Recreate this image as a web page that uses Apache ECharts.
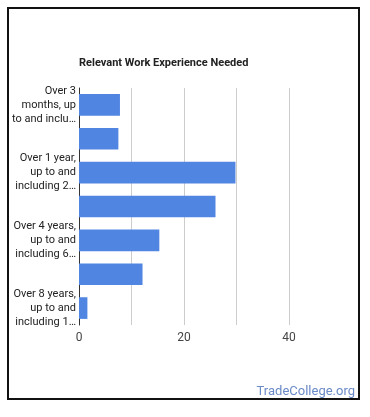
<!DOCTYPE html>
<html><head><meta charset="utf-8">
<script src="https://cdn.jsdelivr.net/npm/echarts@6/dist/echarts.min.js"></script>
<style>html,body{margin:0;padding:0;background:#fff}#c{width:370px;height:417px}</style>
</head><body><div id="c"></div>
<script>
const categories = [
  "Over 3 months, up to and including 6 months",
  "Over 6 months, up to and including 1 year",
  "Over 1 year, up to and including 2 years",
  "Over 2 years, up to and including 4 years",
  "Over 4 years, up to and including 6 years",
  "Over 6 years, up to and including 8 years",
  "Over 8 years, up to and including 10 years"
];
const tickLabels = [
  "Over 3\nmonths, up\nto and inclu…",
  "",
  "Over 1 year,\nup to and\nincluding 2…",
  "",
  "Over 4 years,\nup to and\nincluding 6…",
  "",
  "Over 8 years,\nup to and\nincluding 1…"
];
const values = [7.8, 7.5, 29.8, 26.0, 15.3, 12.1, 1.6];
const xTicks = [0, 20, 40];

const chart = echarts.init(document.getElementById('c'), null, {renderer: 'canvas'});
chart.setOption({
  animation: false,
  backgroundColor: '#fff',
  title: {
    text: 'Relevant Work Experience Needed',
    left: 79, top: 58, padding: 0,
    textStyle: {fontFamily: 'Roboto', fontSize: 11, fontWeight: 'bold', color: '#222'}
  },
  grid: {left: 79, right: 28.5, top: 88, bottom: 92, containLabel: false},
  xAxis: {
    type: 'value', min: 0, max: 50, interval: 10,
    axisLine: {show: false}, axisTick: {show: false},
    splitLine: {lineStyle: {color: ['#cccccc','#cccccc','#cccccc','#cccccc','#cccccc','rgba(0,0,0,0)'], width: 1}},
    axisLabel: {
      fontFamily: 'Roboto', fontSize: 12, color: '#444', margin: 7,
      formatter: v => xTicks.includes(v) ? String(v) : ''
    }
  },
  yAxis: {
    type: 'category', inverse: true, data: categories,
    axisLine: {show: true, lineStyle: {color: '#333', width: 1}},
    axisTick: {show: false},
    axisLabel: {
      interval: 0, fontFamily: 'Roboto', fontSize: 11, color: '#222', lineHeight: 14, margin: 3,
      formatter: (v, i) => tickLabels[i]
    }
  },
  series: [{
    type: 'bar', data: values, barWidth: '64%',
    itemStyle: {color: '#5085e1'}
  }],
  graphic: [
    {type: 'rect', shape: {x: 8, y: 8, width: 351, height: 391}, style: {fill: 'none', stroke: '#111', lineWidth: 2}, silent: true},
    {type: 'text', right: 15, top: 385, style: {text: 'TradeCollege.org', font: '13px Roboto', fill: '#6a8ac8'}}
  ]
});
</script></body></html>
